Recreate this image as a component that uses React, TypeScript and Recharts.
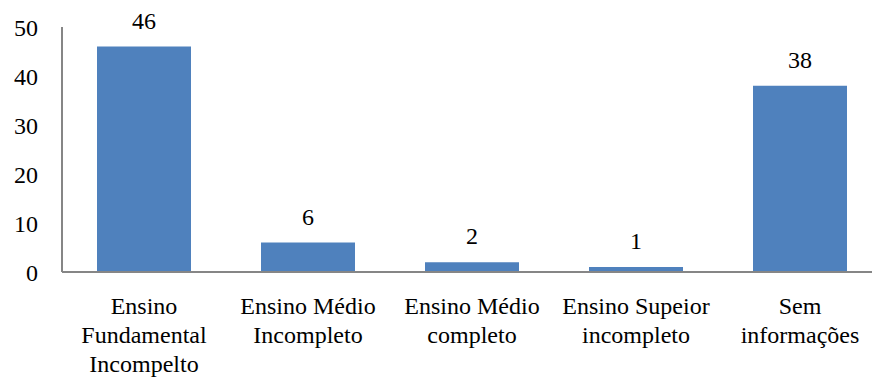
import React from "react";
import { BarChart, Bar, XAxis, YAxis, LabelList } from "recharts";

// Escolaridade: number of people per schooling level
const categories = [
  "Ensino Fundamental Incompelto",
  "Ensino Médio Incompleto",
  "Ensino Médio completo",
  "Ensino Supeior incompleto",
  "Sem informações",
];
const counts = [46, 6, 2, 1, 38];
const tickLines = [
  ["Ensino", "Fundamental", "Incompelto"],
  ["Ensino Médio", "Incompleto"],
  ["Ensino Médio", "completo"],
  ["Ensino Supeior", "incompleto"],
  ["Sem", "informações"],
];
const yTicks = [0, 10, 20, 30, 40, 50];

const data = categories.map((name, i) => ({ name, value: counts[i] }));

const FONT = "'Liberation Serif', Tinos, 'Times New Roman', 'DejaVu Serif', serif";
const AXIS_GRAY = "#868686";
const BAR_BLUE = "#4F81BD";
const textStyle = { fontFamily: FONT, fontSize: 24, fill: "#000" };

const CategoryTick = (props: any) => {
  const { x, y, payload } = props;
  const lines = tickLines[payload.index] ?? [String(payload.value)];
  return (
    <text x={x} y={y} textAnchor="middle" style={textStyle}>
      {lines.map((line, i) => (
        <tspan key={i} x={x} dy={i === 0 ? 42 : 29}>
          {line}
        </tspan>
      ))}
    </text>
  );
};

export default function App() {
  return (
    <div
      style={{
        position: "fixed",
        left: 0,
        top: 0,
        width: 872,
        height: 380,
        overflow: "hidden",
        background: "#fff",
        fontFamily: FONT,
      }}
    >
      <BarChart
        width={890}
        height={380}
        data={data}
        margin={{ top: 27, right: 8, bottom: 8, left: 0 }}
        barSize={94}
        style={{ fontFamily: FONT }}
      >
        <XAxis
          dataKey="name"
          interval={0}
          height={100}
          tickLine={false}
          tickSize={0}
          tickMargin={0}
          axisLine={{ stroke: AXIS_GRAY, strokeWidth: 2 }}
          tick={<CategoryTick />}
        />
        <YAxis
          width={62}
          domain={[0, 50]}
          ticks={yTicks}
          interval={0}
          tickLine={false}
          tickSize={0}
          tickMargin={24}
          axisLine={{ stroke: AXIS_GRAY, strokeWidth: 2 }}
          tick={{ style: textStyle, fontSize: 24, fill: "#000" }}
        />
        <Bar dataKey="value" fill={BAR_BLUE} isAnimationActive={false}>
          <LabelList
            dataKey="value"
            position="top"
            offset={18}
            style={textStyle}
            fontSize={24}
            fill="#000"
          />
        </Bar>
      </BarChart>
    </div>
  );
}
